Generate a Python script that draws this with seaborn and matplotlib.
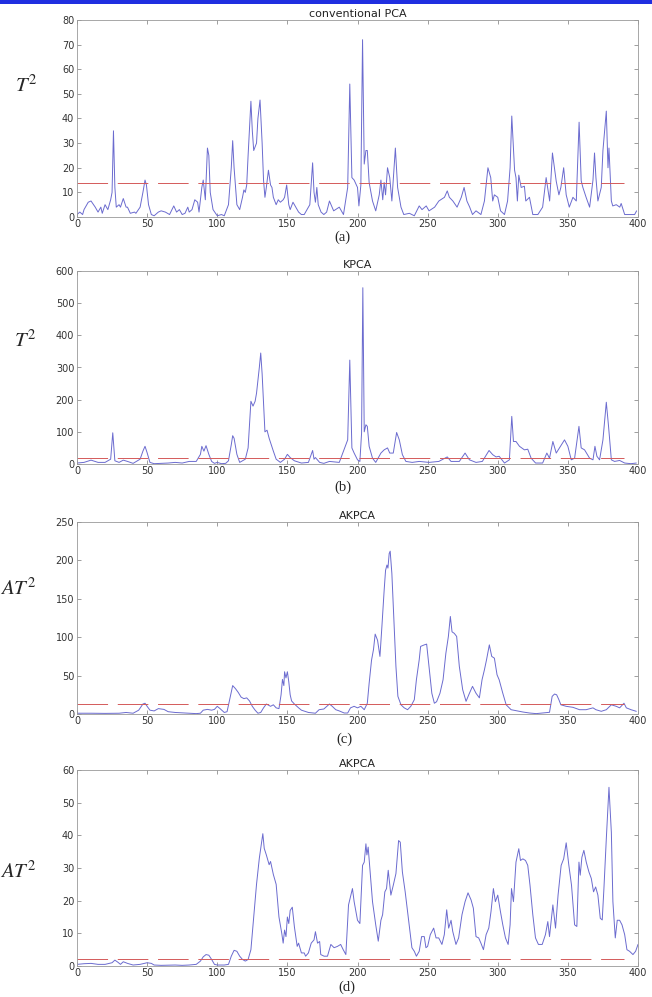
import numpy as np
import pandas as pd
import matplotlib
matplotlib.use("Agg")
import matplotlib.pyplot as plt
import seaborn as sns

sns.set_style("ticks")
plt.rcParams["font.family"] = ["DejaVu Sans"]
plt.rcParams["mathtext.fontset"] = "stix"
plt.rcParams["lines.scale_dashes"] = False

# (a) conventional PCA, T^2
a_x = [0, 2, 4, 5, 8, 10, 13, 15, 17, 18, 20, 22, 24, 25, 26, 27, 28, 30, 31, 33, 35, 36, 38, 41, 42, 45, 47, 48.5, 49.5,
       51, 53, 55, 58, 60, 63, 66, 69, 71, 73, 75, 77, 79, 80, 82, 84, 86, 87, 89, 90, 91.5, 93, 94, 95, 97, 100, 103, 105,
       108, 110, 111, 112, 114, 116, 118, 119, 120, 121, 122, 124, 125, 126, 128, 129, 130.5, 132, 133, 134, 135, 136.5,
       138, 139, 140, 142, 143.5, 145, 147, 148, 149.5, 151, 152, 154, 156, 158, 160, 162, 164, 166, 168, 169, 170, 171,
       172, 174, 176, 178, 180, 183, 187, 190, 193, 194.5, 196, 197.6, 200, 201, 202.4, 203.6, 204.8, 206, 207, 208.3,
       210.7, 213, 215.5, 216.7, 218, 219, 220, 221.4, 223, 224.5, 227, 228.6, 231, 233, 237, 240.5, 244, 246, 249, 251,
       255, 258, 262, 264, 265.5, 268, 271, 274, 276, 278, 280, 282, 284.5, 288, 290.5, 293, 295, 296.4, 297.6, 300, 302,
       304.8, 307, 308.8, 310, 312, 313, 314, 315, 316.7, 319, 320, 322.6, 325, 328.6, 332, 334.5, 337, 339, 341.7, 343.6,
       345, 347, 348.8, 351, 353.6, 356, 358, 359.5, 360.7, 363, 365.5, 367.9, 369, 370, 371.4, 373.8, 375, 377.4, 378.6,
       379.3, 381, 382, 384.5, 387, 388, 390.5, 394, 397.6, 399]
a_y = [1, 2, 1, 3, 6, 6.5, 4, 2, 4, 1.5, 5, 3, 7, 10, 35, 12, 4, 5, 4, 7.5, 4, 4, 1.5, 2, 1.5, 4, 10, 15, 13,
       5, 1, 0.5, 2, 2.5, 2, 1, 4.5, 2, 3, 1, 1.5, 4, 2, 3, 7, 6, 2, 12, 15, 7, 28, 25, 10, 3, 0.5, 1, 0.5,
       5, 20, 31, 20, 5, 3, 8, 11, 10, 13, 25, 47, 35, 27, 30, 40, 47.5, 30, 15, 8, 12, 19,
       13, 12, 8, 5, 7, 6, 7, 8, 13, 5, 3, 6, 4, 2, 1, 1, 3, 5, 22, 10, 6, 12,
       5, 2, 1, 2, 6.5, 2.5, 4, 1, 12, 54, 16, 15, 12, 4.5, 13, 72, 21.5, 27, 27, 14,
       6.5, 2.5, 9, 15, 7, 14, 9, 20, 16, 6.5, 28, 12, 4, 1, 1.5, 0.5, 4.5, 3, 4.5, 2.5,
       4, 6.5, 8, 10.6, 8, 6.5, 4, 8, 12, 6.5, 4, 1, 2.5, 1, 6.5, 20, 16, 6.5, 9, 8, 2.5,
       1, 6.5, 20, 41, 19, 16, 6.5, 17, 12, 12.5, 6.5, 8, 1, 1, 4, 16, 6.5, 26, 14.5, 9,
       12, 20, 9, 4, 8, 6.5, 38.5, 14.7, 12, 8, 4, 15, 26, 16, 6.5, 12, 27, 43, 20,
       28, 6.5, 4.5, 5, 4, 5.5, 1, 1, 1, 2.5]

# (b) KPCA, T^2
b_x = [0, 5, 10, 15, 20, 24, 25.5, 27, 30, 33, 36, 40, 45, 47, 48.5, 50, 52, 55, 60, 65, 70, 75, 80, 85, 88, 89, 90.5,
       92, 94, 96, 98, 100, 103, 106, 108, 110, 111, 112, 114, 116, 118, 120, 122, 124, 125.5, 127, 128, 130, 131, 132,
       134, 135.5, 137, 140, 142, 145, 148, 150, 152, 155, 160, 165, 168, 169, 170, 171, 173, 176, 180, 187, 193, 194.5,
       196, 197.6, 200, 201.7, 202.9, 203.8, 204.8, 206, 207, 208.3, 210.7, 213, 216.7, 219, 221.4, 223, 225.5, 227.9,
       229.8, 232, 234.5, 239, 244, 251, 258, 264, 266.7, 272.6, 276.7, 279.8, 284.5, 289, 293.8, 296.4, 298.8, 301,
       304.8, 308.3, 310, 311.2, 313, 315.5, 319, 321.4, 323.8, 327, 332, 335, 336.9, 339.3, 341.7, 344, 347.6, 350,
       352.4, 354.8, 357.9, 359.5, 361.9, 365.5, 367.9, 369.3, 370.7, 372.6, 375, 377.4, 379, 381, 383.3, 386.9, 390.5,
       395, 398.8]
b_y = [3, 5, 12, 5, 5, 15, 97, 10, 5, 12, 8, 2, 15, 40, 55, 35, 5, 1, 2, 3, 5, 3, 8, 8, 30, 55, 40,
       57, 30, 8, 2, 5, 1, 2, 10, 60, 88, 80, 30, 5, 10, 15, 50, 195, 180, 195, 220, 300, 345, 280,
       100, 105, 80, 40, 15, 5, 15, 30, 20, 10, 3, 5, 42, 15, 20, 15, 5, 2, 8, 5, 75, 323,
       50, 34, 13, 8, 96, 548, 100, 122, 117, 55, 18, 5, 34, 44, 50, 34, 34, 98,
       75, 29, 8, 5, 8, 5, 8, 22, 8, 8, 34, 13, 5, 8, 42, 29, 22, 24,
       3, 13, 148, 70, 70, 55, 44, 46, 18, 3, 3, 34, 18, 70, 34, 50, 75, 55,
       13, 18, 117, 50, 44, 18, 13, 55, 24, 13, 75, 192, 117, 13, 8, 11, 3,
       1, 3]

# (c) AKPCA, AT^2
c_x = [0, 10, 20, 30, 35, 40, 44, 47, 48.5, 50, 52, 55, 58, 62, 65, 70, 75, 80, 85, 88, 90, 93, 96, 98, 100, 102, 105,
       107, 109, 111, 113, 115, 117, 119, 121, 123, 125, 127, 129, 131, 133, 135, 138, 140, 142, 144, 145.5, 146.5, 147.5,
       148, 149, 150, 151, 152, 153, 155, 158, 160, 165, 170, 172.6, 176, 180, 182, 184.5, 187, 190.5, 193, 195, 197.6,
       200, 202.4, 204.8, 207, 208.3, 210, 211.4, 212.6, 214.3, 216, 217.4, 219, 220, 221, 221.7, 222.6, 223.3, 224.5,
       226, 227.4, 228.8, 231, 233.3, 235.7, 238, 240.5, 242, 244, 245, 247.6, 249.3, 251, 253, 254.8, 256.4, 258.8, 261,
       263, 264.8, 266.2, 267.4, 269, 270.7, 272.6, 275, 277.4, 279.8, 282, 284.5, 286.9, 288.8, 290.5, 292, 294, 295.7,
       297.6, 299.5, 301, 303.6, 306, 309.5, 313, 317.9, 322.6, 327.4, 332, 336.9, 338.8, 340.5, 342, 343.6, 345, 348.8,
       353.6, 358.3, 363, 367.9, 370, 373.8, 377.4, 381, 384.5, 386.9, 390, 391.7, 395, 398.8]
c_y = [1, 1, 0.8, 1, 2, 1, 5, 13, 14, 10, 5, 4, 7, 6, 3, 2, 1.5, 1, 0.5, 1, 5, 6, 5, 6, 10, 7, 2,
       3, 20, 37, 33, 28, 22, 20, 21, 17, 10, 5, 1, 2, 8, 13, 10, 12, 8, 7, 25, 45, 37,
       55, 47, 55, 42, 25, 17, 13, 8, 5, 2, 1, 5.6, 6.5, 13, 10, 5.6, 4, 1.3, 1.3, 8, 10,
       8, 10, 5.6, 14, 40, 70, 84, 104, 96, 75, 114, 161, 187, 194, 190, 209, 212, 183,
       122, 62, 23, 12, 8, 5.6, 10, 18.6, 44.6, 70.6, 88, 90, 91, 62, 27, 14, 16, 27, 44.6,
       79, 101, 127, 107, 105, 101, 62, 31.6, 16.5, 27, 36, 27, 21, 44.6, 57.6, 70.6, 90, 75,
       72.7, 51, 44.6, 27, 12, 5.6, 4.3, 2.6, 1.3, 0.5, 1.3, 2.2, 23, 26, 25, 18.6, 12, 10,
       8.7, 5.6, 5.6, 8, 5.6, 3.5, 5.6, 12, 10, 8, 14, 8, 5.6, 3.5]

# (d) AKPCA, AT^2
d_x = [0, 5, 10, 15, 20, 25, 27, 29, 31, 33, 36, 40, 45, 50, 53, 55, 60, 70, 75, 80, 85, 88, 90, 92, 94, 96, 98, 100,
       105, 108, 110, 112, 114, 116, 118, 120, 122, 124, 126, 128, 130, 132.5, 133.5, 135, 137, 138, 140, 142, 144, 146,
       147, 148, 149, 150, 151, 152, 153.5, 155, 157, 158, 160, 162, 163, 165, 167, 169, 170, 171.5, 173, 173.8, 176.2,
       178.6, 181, 183.3, 185.7, 188, 189.8, 191.7, 193.6, 196.4, 197.6, 200, 201.7, 203.6, 204.8, 206, 206.7, 207.6,
       208.8, 210.7, 213, 214.8, 216.7, 217.9, 219.5, 220.7, 221.9, 223.8, 225.5, 227.4, 229.3, 230.5, 232, 234, 235.7,
       237.4, 238.8, 240.5, 242, 244, 245.7, 247.6, 248.8, 250, 251.9, 254.3, 256, 257.9, 260.2, 261.9, 263.6, 265, 266.7,
       267.9, 270.2, 272.1, 274.5, 276.7, 278.8, 281, 282.6, 284.5, 286.4, 288, 289.8, 291.7, 293.6, 295.2, 296.9, 298.3,
       300, 301.9, 303.6, 305.5, 307.4, 308.8, 309.8, 311.2, 313, 315, 316.2, 317.9, 319.8, 321.4, 323, 325, 326.9, 329,
       331.7, 334, 335.7, 336.9, 339.3, 341.2, 343, 345.2, 347, 348.8, 350.7, 352.6, 354.8, 356.4, 357.9, 358.8, 360,
       361.4, 363.1, 365, 366.7, 368.3, 369.8, 371.4, 373.1, 374.5, 375.7, 377.4, 379.3, 381, 382.1, 383.8, 385.2, 386.9,
       388.6, 390.5, 392.1, 394, 396.4, 398.3, 400]
d_y = [0.5, 0.7, 0.8, 0.5, 0.5, 1, 1.8, 1.2, 0.5, 1.3, 0.8, 0.3, 0.5, 1, 0.8, 0.3, 0.2, 0.3, 0.2, 0.3, 0.5, 1.5, 2.8,
       3.5, 3.3, 2, 0.5, 0.3, 0.3, 0.5, 3, 4.8, 4.5, 3, 2, 1.5, 2, 5, 15, 25, 33, 40.5, 36, 34, 31, 32, 28, 25, 15, 10,
       7, 11, 9, 15, 13, 17, 18, 12, 6, 7, 4, 4, 3, 4, 7, 8, 10.5, 7, 7.5, 3.5, 3,
       3, 6.6, 5.6, 6, 6.6, 5, 3.5, 18.7, 23.7, 19.7, 14, 13, 30.8, 31.8, 37.4, 34, 36.4,
       29.8, 19.7, 12.6, 7.6, 14, 15.7, 22.7, 23.7, 29.3, 21.7, 24.7, 28.3, 38.4, 37.9, 28.8, 22.7, 16.7,
       10.6, 5.6, 4.5, 3, 4.5, 9, 9, 5.6, 6, 9.6, 11.6, 8.6, 8.6, 6.6, 9.6, 17.2, 11.6, 14,
       10.6, 6.6, 8.6, 15.7, 19.7, 22.4, 20.2, 17.7, 9, 8.6, 7, 5, 9.6, 11.6, 16.7, 23.7, 19.7,
       21.7, 16.7, 12.6, 8.6, 6.6, 12.6, 23.7, 19.7, 31.8, 35.9, 32.3, 32.8, 32.3, 30.8, 24.7, 15.7, 8.6, 6.6,
       6.6, 9.6, 13.6, 9, 18.7, 11.6, 21.7, 30.8, 32.8, 37.7, 30.8, 24.7, 12.6, 12.1, 31.8, 27.8, 33.3,
       35.4, 31.8, 28.8, 26.8, 22.7, 24.2, 21.7, 14.6, 14.1, 23.7, 38.9, 54.7, 40.9, 19.7, 8.6, 14, 14,
       12.6, 9.6, 5, 4.5, 3.5, 4.5, 6.6]

titles = ["conventional PCA", "KPCA", "AKPCA", "AKPCA"]
ylabels = [r"$T^2$", r"$T^2$", r"$AT^2$", r"$AT^2$"]
tags = ["(a)", "(b)", "(c)", "(d)"]
limits = [13.8, 18, 12.5, 2.0]
ymax = [80, 600, 250, 60]
ystep = [10, 100, 50, 10]
series = [(a_x, a_y), (b_x, b_y), (c_x, c_y), (d_x, d_y)]

# axes boxes in pixels: (top, bottom)
W, H = 652, 997
boxes = [(20, 217), (271, 464), (522, 714), (770, 966)]
ylab_pos = [(-0.09, 0.615), (-0.093, 0.585), (-0.104, 0.60), (-0.104, 0.43)]
tag_xy = [(342, 237), (343, 487), (344, 739), (347, 987)]

fig = plt.figure(figsize=(W / 100, H / 100), dpi=100)
fig.add_artist(plt.Rectangle((0, 1 - 4 / H), 1, 4 / H, transform=fig.transFigure,
                             color="#1f2ee0", lw=0))

line_col = "#6b6bcf"
red_col = "#d45a5a"
for i in range(4):
    top, bot = boxes[i]
    ax = fig.add_axes([77 / W, 1 - bot / H, 561 / W, (bot - top) / H])
    df = pd.DataFrame({"x": series[i][0], "y": series[i][1]})
    sns.lineplot(data=df, x="x", y="y", ax=ax, color=line_col, linewidth=0.7)
    ax.hlines(limits[i], 0, 390, colors=red_col, linewidth=0.7,
              linestyles=(0, (22, 7)))
    ax.set_xlim(0, 400)
    ax.set_ylim(0, ymax[i])
    ax.set_xticks(np.arange(0, 401, 50))
    ax.set_yticks(np.arange(0, ymax[i] + 1, ystep[i]))
    ax.tick_params(direction="in", top=True, right=True, length=3, width=0.5,
                   color="#777777", labelcolor="#333333", labelsize=7, pad=2)
    ax.tick_params(axis="x", pad=1.5)
    for s in ax.spines.values():
        s.set_color("#999999")
        s.set_linewidth(0.6)
    ax.set_xlabel("")
    ax.set_ylabel(ylabels[i], rotation=0, fontsize=15)
    ax.yaxis.set_label_coords(*ylab_pos[i])
    ax.set_title(titles[i], fontsize=8, pad=2, color="#222222")
    tx, ty = tag_xy[i]
    fig.text(tx / W, 1 - ty / H, tags[i], ha="center", va="center",
             fontsize=10.5, family="Liberation Serif")

fig.savefig("out.png", dpi=100)
